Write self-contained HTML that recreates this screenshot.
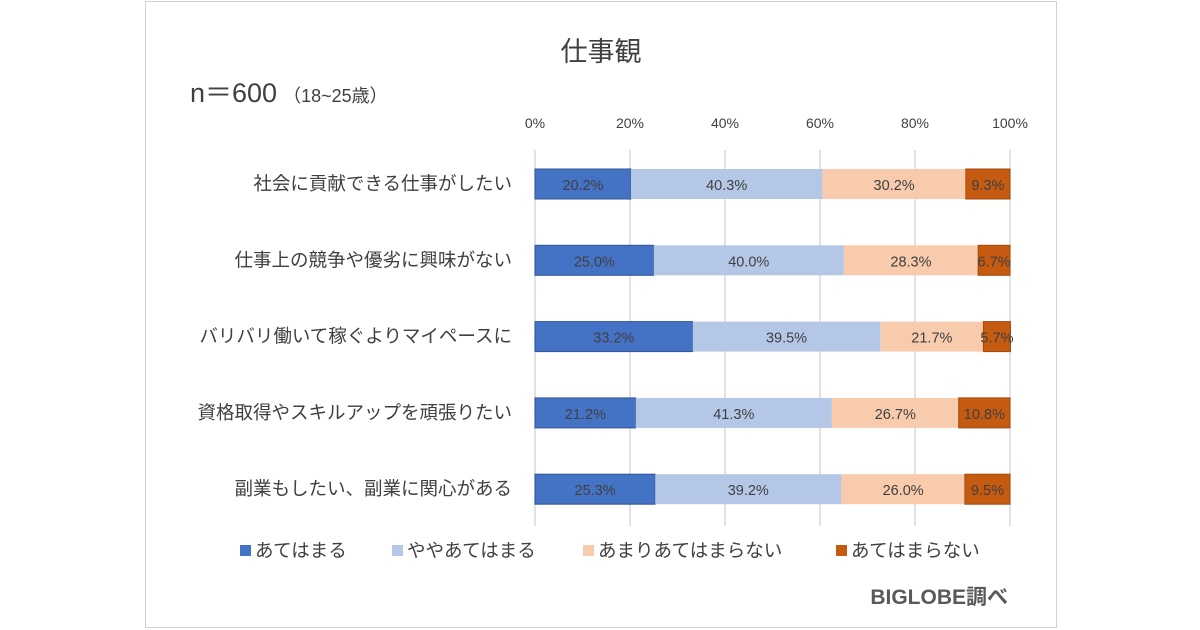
<!DOCTYPE html>
<html><head><meta charset="utf-8"><style>
body{margin:0;background:#fff;width:1200px;height:630px;overflow:hidden}
svg{display:block;font-family:"Liberation Sans","Noto Sans CJK JP",sans-serif}
</style></head><body>
<svg id="c" width="1200" height="630">
<rect x="145.5" y="1.5" width="911" height="626" fill="#fff" stroke="#d0d0d0"/>
<text x="601" y="61" text-anchor="middle" font-size="27" fill="#404040">仕事観</text>
<text x="190" y="102" font-size="27" fill="#404040">n＝600<tspan font-size="18" dx="6">（18~25歳）</tspan></text>
<text x="1008" y="604" text-anchor="end" font-size="21" font-weight="bold" fill="#595959">BIGLOBE調べ</text>
<g id="grid"></g><g id="bars"></g><g id="legend"></g>
</svg>
<script>
const categories=["社会に貢献できる仕事がしたい","仕事上の競争や優劣に興味がない","バリバリ働いて稼ぐよりマイペースに","資格取得やスキルアップを頑張りたい","副業もしたい、副業に関心がある"];
const seriesNames=["あてはまる","ややあてはまる","あまりあてはまらない","あてはまらない"];
const s1=[20.2,25.0,33.2,21.2,25.3];
const s2=[40.3,40.0,39.5,41.3,39.2];
const s3=[30.2,28.3,21.7,26.7,26.0];
const s4=[9.3,6.7,5.7,10.8,9.5];
const ticks=[0,20,40,60,80,100];
const colors=["#4472c4","#b4c7e7","#f8cbad","#c55a11"];
const NS="http://www.w3.org/2000/svg";
const x=v=>535+v*4.75;
const y=i=>184+i*76.3;
function mk(t,a,p){const e=document.createElementNS(NS,t);for(const k in a)e.setAttribute(k,a[k]);p.appendChild(e);return e;}
const g=document.getElementById('grid'),b=document.getElementById('bars'),lg=document.getElementById('legend');
ticks.forEach(t=>{
 const l=mk('line',{x1:x(t),x2:x(t),y1:150,y2:526,stroke:'#d9d9d9','stroke-width':1.5},g);
 
 
 const tx=mk('text',{x:x(t),y:128,'text-anchor':'middle','font-size':14,fill:'#404040'},g);
 tx.textContent=t+'%';
 
 
});
const series=[s1,s2,s3,s4];
categories.forEach((c,i)=>{
 const lt=mk('text',{x:512,y:y(i)+6,'text-anchor':'end','font-size':18.5,fill:'#404040'},b);
 lt.textContent=c;
 
 
 let acc=0;
 series.forEach((s,k)=>{
  const v=s[i];
  const r=mk('rect',{x:x(acc),y:y(i)-15,width:x(acc+v)-x(acc),height:30,fill:colors[k],stroke:k==0?'#2f5597':k==3?'#a44a0e':'none'},b);
  
  
  const t=mk('text',{x:(x(acc)+x(acc+v))/2,y:y(i)+6,'text-anchor':'middle','font-size':14.5,fill:'#404040'},b);
  t.textContent=v.toFixed(1)+'%';
  
  
  acc+=v;
 });
});
const lx=[240,392,583,836];
seriesNames.forEach((n,k)=>{
 const r=mk('rect',{x:lx[k],y:545,width:11,height:11,fill:colors[k]},lg);
 
 
 const t=mk('text',{x:lx[k]+15,y:557,'font-size':18.5,fill:'#404040'},lg);
 t.textContent=n;
 
 
});
</script>
</body></html>
